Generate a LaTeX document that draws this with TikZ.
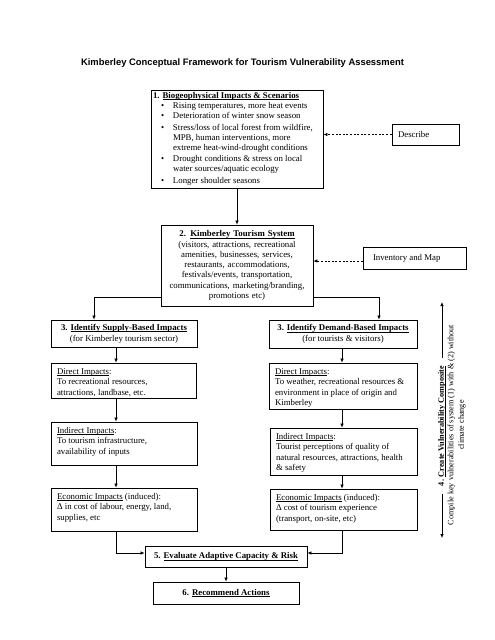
\documentclass[tikz,border=0pt]{standalone}
\usepackage{fontspec}
\setmainfont{Liberation Serif}
\newfontfamily\arialfont{Liberation Sans}
\usetikzlibrary{arrows.meta}
\newcommand\ulin[1]{\setbox0\hbox{#1}\rlap{\rule[-1.4pt]{\wd0}{0.5pt}}\box0\relax}
\newcommand\ibox[3]{\parbox[c][#1][t]{#2}{\raggedright\rule{0pt}{11pt}#3}}
\newcommand\bitem[2][0pt]{\par\vspace{#1}\hangindent=20pt\hangafter=1\noindent\makebox[20pt][l]{\hspace{8pt}\textbullet}#2}
\tikzset{
  cbox/.style={draw, line width=0.8pt, inner xsep=6pt, inner ysep=0pt, font=\fontsize{8.8}{10.5}\selectfont},
  arr/.style={-{Latex[length=4pt,width=3.6pt]}, line width=0.7pt},
  darr/.style={arr, dash pattern=on 2pt off 1.6pt},
  rtext/.style={font=\fontsize{8.2}{10.5}\selectfont, align=center, rotate=90}
}
\begin{document}
\begin{tikzpicture}[x=1pt,y=-1pt]
\useasboundingbox[fill=white] (0,0) rectangle (495,640);

\node[font=\arialfont\bfseries\fontsize{9.4}{11}\selectfont] (title) at (242.5,63)
  {Kimberley Conceptual Framework for Tourism Vulnerability Assessment};

% Box 1
\node[cbox, inner xsep=2pt, minimum width=172pt, minimum height=98pt] (b1) at (237,139)
 {\parbox[c][98pt][t]{168pt}{\fontsize{8.8}{10.2}\selectfont\raggedright\rule{0pt}{8.5pt}\textbf{1. \ulin{Biogeophysical Impacts \& Scenarios}}
 \bitem{Rising temperatures, more heat events}
 \bitem{Deterioration of winter snow season}
 \bitem[1pt]{Stress/loss of local forest from wildfire,\newline MPB, human interventions, more\newline extreme heat-wind-drought conditions}
 \bitem[1pt]{Drought conditions \& stress on local\newline water sources/aquatic ecology}
 \bitem[1pt]{Longer shoulder seasons}}};

\node[cbox, minimum width=67pt, minimum height=21pt] (desc) at (425.5,134.5)
 {\makebox[55pt][l]{Describe}};

% Box 2
\node[cbox, inner xsep=2pt, font=\fontsize{8.8}{10.3}\selectfont, text width=148pt, align=center,
      minimum width=152pt, minimum height=81pt] (b2) at (237,265.5)
 {\textbf{2. \ulin{Kimberley Tourism System}}\\(visitors, attractions, recreational\\amenities, businesses, services,\\restaurants, accommodations,\\festivals/events, transportation,\\communications, marketing/branding,\\promotions etc)};

\node[cbox, minimum width=103pt, minimum height=22pt] (inv) at (414.5,258)
 {\makebox[83pt][l]{Inventory and Map}};

% Box 3
\node[cbox, font=\fontsize{8.8}{11}\selectfont, align=center, minimum width=146pt, minimum height=27pt] (b3l) at (124,333.5)
 {\textbf{3. \ulin{Identify Supply-Based Impacts}}\\(for Kimberley tourism sector)};
\node[cbox, font=\fontsize{8.8}{11}\selectfont, align=center, minimum width=148pt, minimum height=28pt] (b3r) at (343,334)
 {\textbf{3. \ulin{Identify Demand-Based Impacts}}\\(for tourists \& visitors)};

% Left column
\node[cbox] (dl) at (123.5,380.5) {\ibox{35pt}{133pt}{\ulin{Direct Impacts}:\\To recreational resources,\\attractions, landbase, etc.}};
\node[cbox] (il) at (124,443.5) {\ibox{43pt}{134pt}{\ulin{Indirect Impacts}:\\To tourism infrastructure,\\availability of inputs}};
\node[cbox] (el) at (124,509.5) {\ibox{43pt}{134pt}{\ulin{Economic Impacts} (induced):\\Δ in cost of labour, energy, land,\\supplies, etc}};

% Right column
\node[cbox] (dr) at (343,386) {\ibox{46pt}{136pt}{\ulin{Direct Impacts}:\\To weather, recreational resources \&\\environment in place of origin and\\Kimberley}};
\node[cbox] (ir) at (343.5,451.5) {\ibox{47pt}{135pt}{\ulin{Indirect Impacts}:\\Tourist perceptions of quality of\\natural resources, attractions, health\\\& safety}};
\node[cbox] (er) at (343.5,509.5) {\ibox{41pt}{135pt}{\ulin{Economic Impacts} (induced):\\Δ cost of tourism experience\\(transport, on-site, etc)}};

% Box 5, 6
\node[cbox, minimum width=162pt, minimum height=21pt] (b5) at (226,556.5)
 {\textbf{5. \ulin{Evaluate Adaptive Capacity \& Risk}}};
\node[cbox, minimum width=146pt, minimum height=22pt] (b6) at (226,593)
 {\textbf{6. \ulin{Recommend Actions}}};

% Box 4 (rotated)
\node[rtext, inner xsep=8pt] (n4t) at (442,426) {\textbf{4. \ulin{Create Vulnerability Composite}}};
\node[rtext] (n4d) at (456.5,425) {Compile key vulnerabilities of system (1) with \& (2) without\\climate change};
\coordinate (a4top) at (442,302);
\coordinate (a4bot) at (442,538);

% Column coordinates
\coordinate (cl) at (116,0);
\coordinate (cr) at (342,0);

% Connectors
\draw[arr] (b1.south) -- (b2.north);
\draw[darr] (desc.west) -- (desc.west -| b1.east);
\draw[darr] ([yshift=-3pt]inv.west) -- ([yshift=-3pt]inv.west -| b2.east);
\draw[arr] ([yshift=9pt]b2.south west) -| ([xshift=-30pt]b3l.north);
\draw[arr] ([yshift=9pt]b2.south east) -| ([xshift=36pt]b3r.north);
\draw[arr] (b3l.south -| cl) -- (dl.north -| cl);
\draw[arr] (dl.south -| cl) -- (il.north -| cl);
\draw[arr] (il.south -| cl) -- (el.north -| cl);
\draw[arr] (b3r.south -| cr) -- (dr.north -| cr);
\draw[arr] (dr.south -| cr) -- (ir.north -| cr);
\draw[arr] (ir.south -| cr) -- (er.north -| cr);
\draw[arr] (el.south -| cl) |- ([yshift=3.5pt]b5.west);
\draw[arr] (er.south -| cr) |- ([yshift=3.5pt]b5.east);
\draw[arr] (b5.south) -- (b6.north);
\draw[arr] (n4t.east) -- (a4top);
\draw[arr] (n4t.west) -- (a4bot);
\end{tikzpicture}
\end{document}
